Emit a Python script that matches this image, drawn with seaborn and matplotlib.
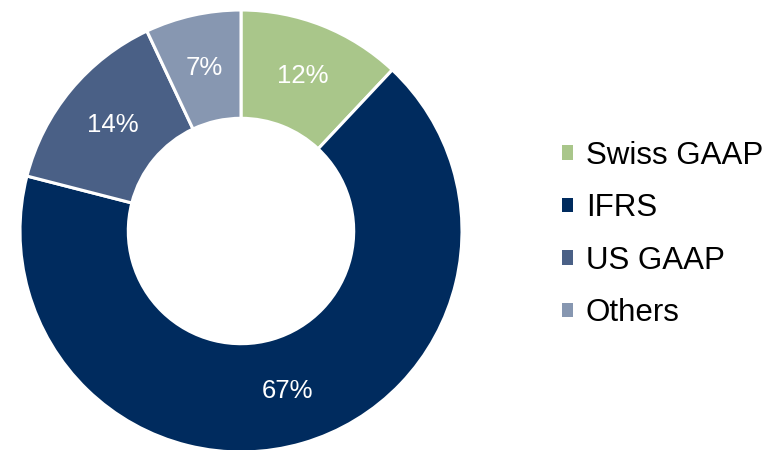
import matplotlib
matplotlib.use("Agg")
import matplotlib.pyplot as plt
from matplotlib.patches import Patch
import seaborn as sns

# Share of reporting standards
categories = ["Swiss GAAP", "IFRS", "US GAAP", "Others"]
shares = [12, 67, 14, 7]
colors = ["#A9C68A", "#002B5E", "#4A6086", "#8797B1"]

sns.set_theme(style="white")
plt.rcParams["font.family"] = ["Liberation Sans", "DejaVu Sans"]

fig = plt.figure(figsize=(7.74, 4.5), dpi=100)
ax = fig.add_axes([20 / 774, -2 / 450, 442 / 774, 442 / 450])

wedges, texts, autotexts = ax.pie(
    shares,
    colors=colors,
    startangle=90,
    counterclock=False,
    radius=1.0,
    autopct=lambda p: f"{p:.0f}%",
    pctdistance=0.755,
    wedgeprops=dict(width=0.49, edgecolor="white", linewidth=2.2),
    textprops=dict(color="white", fontsize=18.5),
)
ax.set_xlim(-1, 1)
ax.set_ylim(-1, 1)
ax.set_aspect("equal")
ax.axis("off")

handles = [Patch(facecolor=c, edgecolor="none") for c in colors]
leg = fig.legend(
    handles,
    categories,
    loc="center left",
    bbox_to_anchor=(562 / 774, 0.479),
    frameon=False,
    fontsize=22.5,
    handlelength=0.36,
    handleheight=0.36,
    handletextpad=0.4,
    labelspacing=0.72,
    borderpad=0,
    borderaxespad=0,
)
for t in leg.get_texts():
    t.set_color("black")

fig.savefig("out.png", dpi=100, facecolor="white")
